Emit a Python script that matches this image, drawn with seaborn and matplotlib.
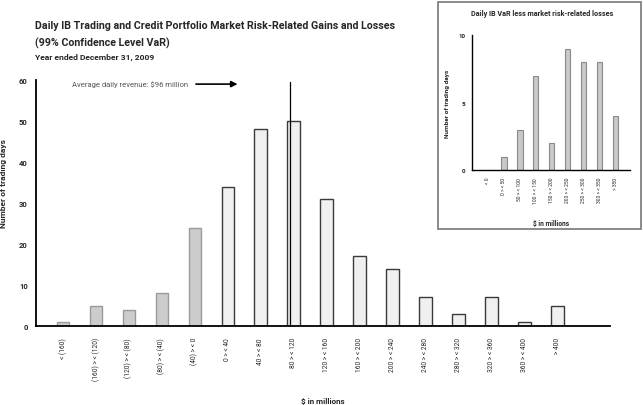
import numpy as np
import pandas as pd
import matplotlib
matplotlib.use("Agg")
import matplotlib.pyplot as plt
import seaborn as sns
from matplotlib.patches import Rectangle

# main histogram data
bins = ["< (160)", "(160) > < (120)", "(120) > < (80)", "(80) > < (40)", "(40) > < 0",
        "0 > < 40", "40 > < 80", "80 > < 120", "120 > < 160", "160 > < 200",
        "200 > < 240", "240 > < 280", "280 > < 320", "320 > < 360", "360 > < 400", "> 400"]
days = [1, 5, 4, 8, 24, 34, 48, 50, 31, 17, 14, 7, 3, 7, 1, 5]
avg_revenue = 96

# inset data
var_bins = ["< 0", "0 > < 50", "50 > < 100", "100 > < 150", "150 > < 200",
            "200 > < 250", "250 > < 300", "300 > < 350", "> 350"]
var_days = [0, 1, 3, 7, 2, 9, 8, 8, 4]

sns.set_style("white")
plt.rcParams['font.family'] = ['Roboto', 'DejaVu Sans']

fig = plt.figure(figsize=(6.43, 4.06), dpi=100)

# main chart
ax = fig.add_axes([36/643, 1-327/406, (610-36)/643, (327-81)/406])
df = pd.DataFrame({"bin": bins, "days": days})
df["sign"] = ["loss" if i < 5 else "gain" for i in range(len(bins))]
sns.barplot(data=df, x="bin", y="days", hue="sign", dodge=False, width=0.38,
            palette={"loss": "#cccccc", "gain": "#f0f0f0"}, legend=False, ax=ax)
for cont, edge in zip(ax.containers, ["#9a9a9a", "#3a3a3a"]):
    for bar in cont:
        bar.set_edgecolor(edge)
        bar.set_linewidth(1.0)

ax.set_xlim(-0.82, 16.6)
ax.set_ylim(0, 60)
ax.set_yticks([0, 10, 20, 30, 40, 50, 60])
ax.tick_params(axis='y', length=0, labelsize=5.5, pad=6)
for t in ax.get_yticklabels():
    t.set_fontweight('bold')
ax.tick_params(axis='x', length=0, labelsize=4.8, pad=8)
plt.setp(ax.get_xticklabels(), rotation=90)
for s in ['top', 'right']:
    ax.spines[s].set_visible(False)
ax.spines['left'].set_linewidth(1.3)
ax.spines['bottom'].set_linewidth(1.3)
ax.spines['left'].set_color('black')
ax.spines['bottom'].set_color('black')
ax.set_xlabel("$ in millions", fontsize=5.8, fontweight='bold', labelpad=12)
ax.set_ylabel("Number of trading days", fontsize=6, fontweight='bold')
ax.yaxis.set_label_coords(-0.05, 0.585)

# average revenue marker
avg_pos = (avg_revenue + 180) / 40
ax.plot([avg_pos, avg_pos], [0, 59.5], color='black', lw=0.9, clip_on=False)
ax.text(0.27, 59, "Average daily revenue: $96 million", fontsize=5.5, color='#555555',
        ha='left', va='center')
ax.annotate("", xy=(5.38, 59), xytext=(3.95, 59),
            arrowprops=dict(arrowstyle='-|>', color='black', lw=1.2, mutation_scale=9))

# titles
fig.text(35/643, 1-26/406, "Daily IB Trading and Credit Portfolio Market Risk-Related Gains and Losses",
         fontsize=7.7, fontweight='bold', va='center')
fig.text(35/643, 1-43/406, "(99% Confidence Level VaR)", fontsize=7.7, fontweight='bold', va='center')
fig.text(35/643, 1-57/406, "Year ended December 31, 2009", fontsize=6.1, fontweight='bold', va='center')

# inset
fig.patches.append(Rectangle((438/643, 1-230/406), (641-438)/643, (230-3)/406,
                             transform=fig.transFigure, fill=False, edgecolor='#777777', lw=1.2))
ax2 = fig.add_axes([472/643, 1-171/406, (630-472)/643, (171-36)/406])
sns.barplot(x=var_bins, y=var_days, color="#c8c8c8", width=0.33, ax=ax2)
for bar in ax2.patches:
    bar.set_edgecolor('#8a8a8a')
    bar.set_linewidth(0.8)
ax2.set_xlim(-1.0, 8.9)
ax2.set_ylim(0, 10)
ax2.set_yticks([0, 5, 10])
ax2.tick_params(axis='y', length=0, labelsize=4.5, pad=5)
for t in ax2.get_yticklabels():
    t.set_fontweight('bold')
ax2.tick_params(axis='x', length=0, labelsize=3.6, pad=5)
plt.setp(ax2.get_xticklabels(), rotation=90)
for s in ['top', 'right']:
    ax2.spines[s].set_visible(False)
for s in ['left', 'bottom']:
    ax2.spines[s].set_linewidth(1.0)
    ax2.spines[s].set_color('black')
ax2.set_xlabel("$ in millions", fontsize=4.8, fontweight='bold', labelpad=12)
ax2.set_ylabel("Number of trading days", fontsize=4.6, fontweight='bold', labelpad=6)
fig.text(542/643, 1-14/406, "Daily IB VaR less market risk-related losses", fontsize=5.2,
         fontweight='bold', ha='center', va='center')

fig.savefig("out.png", dpi=100)
